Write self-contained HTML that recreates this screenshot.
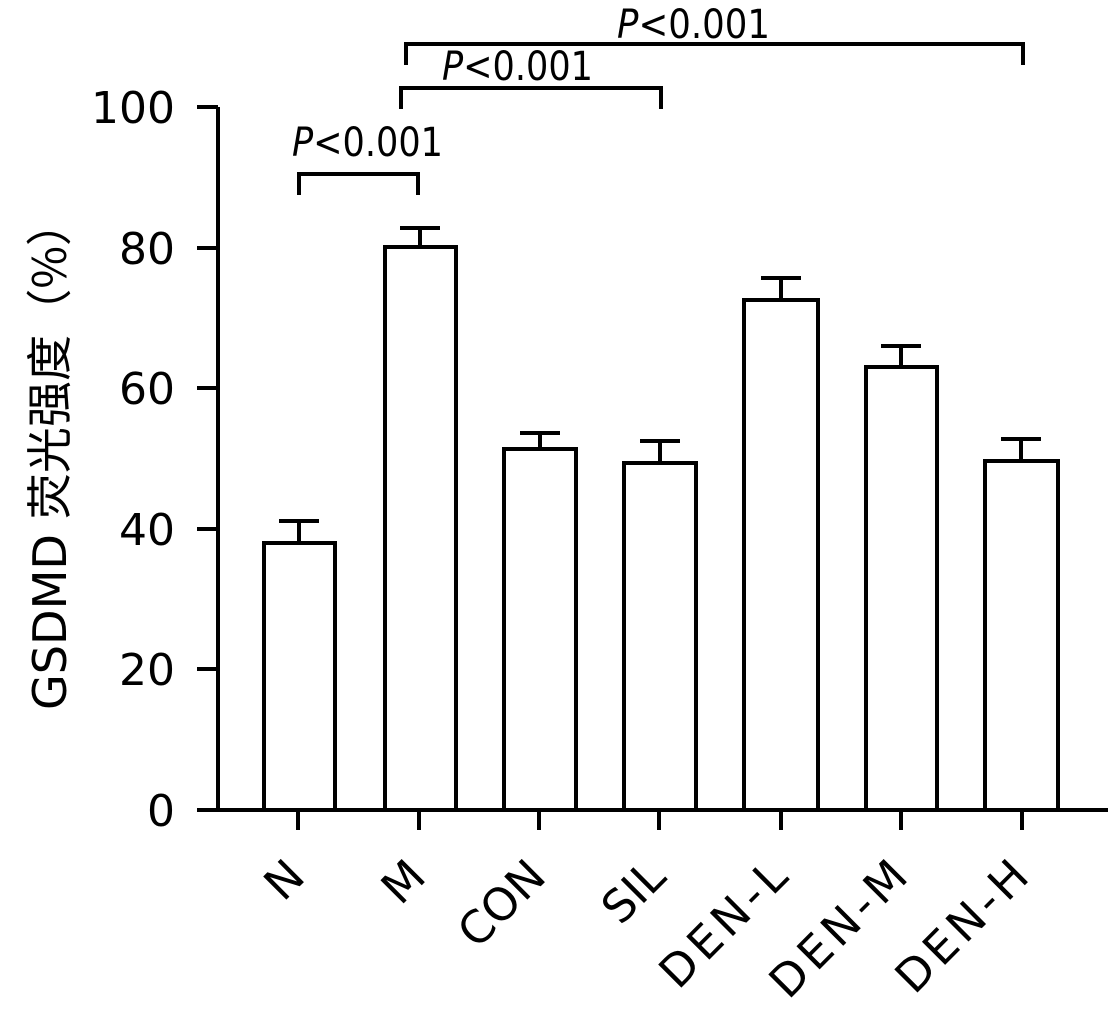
<!DOCTYPE html>
<html><head><meta charset="utf-8"><style>body{margin:0;background:#fff}svg{display:block}</style></head>
<body>
<svg width="1115" height="1009" viewBox="0 0 1115 1009" xmlns="http://www.w3.org/2000/svg" font-family="'DejaVu Sans','Liberation Sans',sans-serif">
<g stroke="#000" stroke-width="4" fill="none">
<line x1="218" y1="107" x2="218" y2="811"/>
<line x1="199" y1="810" x2="1108" y2="810"/>
<line x1="197" y1="107" x2="218" y2="107"/>
<line x1="197" y1="248" x2="218" y2="248"/>
<line x1="197" y1="388" x2="218" y2="388"/>
<line x1="197" y1="529" x2="218" y2="529"/>
<line x1="197" y1="669" x2="218" y2="669"/>
<line x1="197" y1="810" x2="218" y2="810"/>
<line x1="298" y1="810" x2="298" y2="830"/>
<line x1="419" y1="810" x2="419" y2="830"/>
<line x1="539" y1="810" x2="539" y2="830"/>
<line x1="659" y1="810" x2="659" y2="830"/>
<line x1="781" y1="810" x2="781" y2="830"/>
<line x1="901" y1="810" x2="901" y2="830"/>
<line x1="1022" y1="810" x2="1022" y2="830"/>
<rect x="264" y="543" width="71" height="267"/>
<rect x="385" y="247" width="71" height="563"/>
<rect x="504" y="449" width="72" height="361"/>
<rect x="624" y="463" width="72" height="347"/>
<rect x="744" y="300" width="74" height="510"/>
<rect x="866" y="367" width="71" height="443"/>
<rect x="985" y="461" width="73" height="349"/>
<path d="M299 543V521M279 521H319"/>
<path d="M420 247V228M400 228H440"/>
<path d="M540 449V433M520 433H560"/>
<path d="M660 463V441M640 441H680"/>
<path d="M781 300V278M761 278H801"/>
<path d="M901 367V346M881 346H921"/>
<path d="M1021 461V439M1001 439H1041"/>
<path d="M299 195V174H418V195"/>
<path d="M401 109V88H661V109"/>
<path d="M406 65V44H1023V65"/>
</g>
<g font-size="44" text-anchor="end" fill="#000">
<text x="175" y="123">100</text>
<text x="175" y="264">80</text>
<text x="175" y="404">60</text>
<text x="175" y="545">40</text>
<text x="175" y="685">20</text>
<text x="175" y="826">0</text>
</g>
<text transform="translate(66,455) rotate(-90)" text-anchor="middle" font-size="46" textLength="510" lengthAdjust="spacingAndGlyphs" font-family="'DejaVu Sans','Noto Sans CJK SC',sans-serif">GSDMD <tspan font-family="'Noto Sans CJK SC',sans-serif">荧光强度（%）</tspan></text>
<g font-size="40" fill="#000">
<text x="292" y="156" textLength="151" lengthAdjust="spacingAndGlyphs"><tspan font-style="italic">P</tspan>&lt;0.001</text>
<text x="442" y="80" textLength="151" lengthAdjust="spacingAndGlyphs"><tspan font-style="italic">P</tspan>&lt;0.001</text>
<text x="617" y="38" textLength="153" lengthAdjust="spacingAndGlyphs"><tspan font-style="italic">P</tspan>&lt;0.001</text>
</g>
<g font-size="45" text-anchor="end" fill="#000">
<text transform="translate(307,879) rotate(-45)">N</text>
<text transform="translate(428,879) rotate(-45)">M</text>
<text transform="translate(548,879) rotate(-45)">CON</text>
<text transform="translate(668,879) rotate(-45)">SIL</text>
<text transform="translate(790,879) rotate(-45)" textLength="158" lengthAdjust="spacing">DEN-L</text>
<text transform="translate(910,879) rotate(-45)" textLength="172" lengthAdjust="spacing">DEN-M</text>
<text transform="translate(1031,879) rotate(-45)" textLength="165" lengthAdjust="spacing">DEN-H</text>
</g>
</svg>
</body></html>
